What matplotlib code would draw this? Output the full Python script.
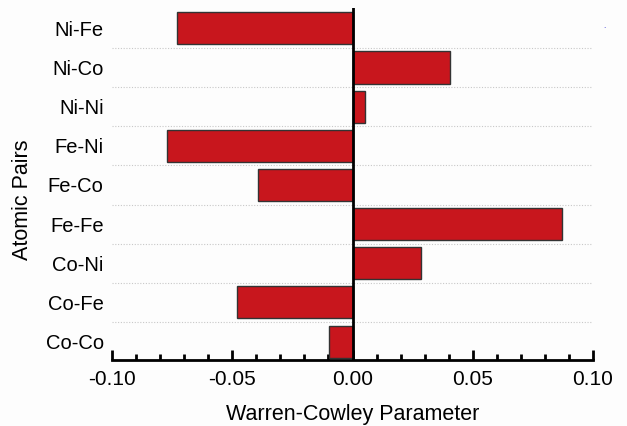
import numpy as np
import matplotlib
matplotlib.use("Agg")
import matplotlib.pyplot as plt
from matplotlib.ticker import MultipleLocator

plt.rcParams['font.family'] = ['Liberation Sans', 'DejaVu Sans']

# data (bottom to top)
pairs = ["Co-Co", "Co-Fe", "Co-Ni", "Fe-Fe", "Fe-Co", "Fe-Ni", "Ni-Ni", "Ni-Co", "Ni-Fe"]
wc_values = [-0.0098, -0.0482, 0.0283, 0.0870, -0.0394, -0.0773, 0.0053, 0.0407, -0.0728]

fig = plt.figure(figsize=(6.27, 4.26), dpi=100)
fig.patch.set_facecolor("#fdfdfd")
ax = fig.add_axes([112 / 627, 1 - 360 / 426, (593 - 112) / 627, (360 - 8) / 426])
ax.set_facecolor("#fdfdfd")

y = np.arange(len(pairs))
ax.barh(y, wc_values, height=0.82, color="#c8161d", edgecolor="#333333", linewidth=1.0, zorder=3)

# dotted separators between categories
for g in y[:-1] + 0.5:
    ax.axhline(g, color="#c8c8c8", linestyle=(0, (1, 1.5)), linewidth=0.8, zorder=1)

ax.axvline(0, color="black", linewidth=2.0, zorder=4)

ax.set_xlim(-0.10, 0.10)
ax.set_ylim(-0.47, 8.52)
ax.set_yticks(y)
ax.set_yticklabels(pairs, fontsize=14.5)
ax.tick_params(axis="y", length=0, pad=6)

ax.xaxis.set_minor_locator(MultipleLocator(0.01))
ax.set_xticks([-0.10, -0.05, 0.0, 0.05, 0.10])
ax.set_xticklabels(["-0.10", "-0.05", "0.00", "0.05", "0.10"])
ax.tick_params(axis="x", which="major", direction="in", length=7, width=2, labelsize=15, pad=7)
ax.tick_params(axis="x", which="minor", direction="in", length=4, width=2)

for s in ["top", "right", "left"]:
    ax.spines[s].set_visible(False)
ax.spines["bottom"].set_linewidth(2.0)

ax.set_xlabel("Warren-Cowley Parameter", fontsize=15.5, labelpad=11)
ax.set_ylabel("Atomic Pairs", fontsize=15.5)
ax.yaxis.set_label_coords(-0.164, 0.455)

# small blue speck at top right of original
fig.text(604 / 627, 1 - 27 / 426, ".", color="#2020d0", fontsize=6, ha="center", va="center")

fig.savefig("out.png", dpi=100, facecolor=fig.get_facecolor())
